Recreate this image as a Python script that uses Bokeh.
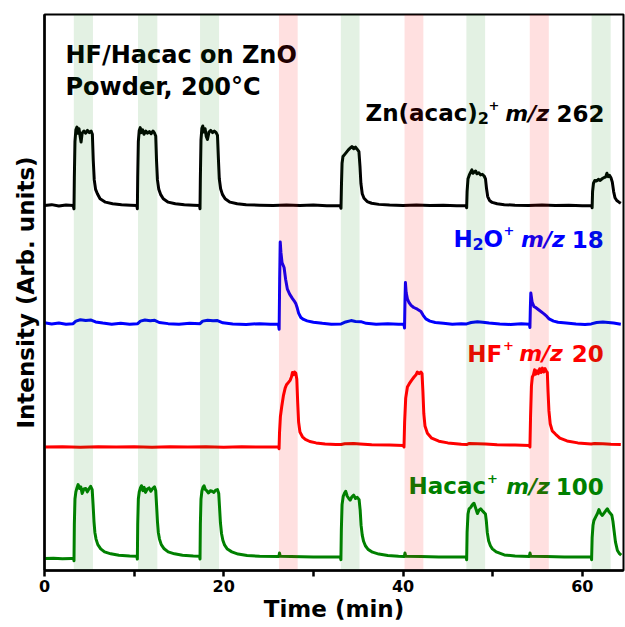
from bokeh.plotting import figure
from bokeh.models import Range1d, FixedTicker
from bokeh.embed import file_html
from bokeh.resources import INLINE
from bokeh.core.properties import value

# ---------------- data ----------------
# time (min), intensity (arb. units, relative to each trace's own baseline)
zn_acac2_262 = [
    (0.0, 0.0), (0.8, 0.15), (1.6, -0.1), (2.4, 0.1), (3.2, 0.0),
    (3.29, -0.6), (3.33, 5.0), (3.40, 11.5), (3.50, 13.6), (3.62, 14.1), (3.72, 13.0), (3.85, 13.8),
    (3.98, 12.4), (4.08, 11.4), (4.2, 13.0), (4.4, 13.4), (4.6, 13.0), (4.8, 13.5), (5.0, 13.1),
    (5.2, 13.4), (5.34, 12.8), (5.44, 8.1), (5.55, 4.6), (5.7, 2.9), (5.9, 2.1), (6.2, 1.2),
    (6.8, 0.6), (7.6, 0.3), (8.6, 0.15), (9.6, 0.05), (10.3, 0.0),
    (10.36, -0.6), (10.40, 5.0), (10.47, 11.5), (10.57, 13.5), (10.68, 14.0), (10.8, 13.1),
    (10.95, 13.6), (11.1, 12.8), (11.3, 13.4), (11.5, 13.0), (11.7, 13.3), (11.9, 12.9),
    (12.1, 13.4), (12.28, 13.0), (12.41, 12.5), (12.5, 8.0), (12.6, 4.6), (12.75, 2.9),
    (12.95, 2.0), (13.25, 1.2), (13.8, 0.6), (14.6, 0.3), (15.6, 0.12), (16.6, 0.05), (17.3, 0.0),
    (17.35, -0.6), (17.39, 5.0), (17.46, 11.8), (17.56, 13.9), (17.66, 14.3), (17.78, 13.2),
    (17.92, 13.8), (18.05, 12.4), (18.18, 11.9), (18.35, 13.2), (18.55, 13.5), (18.75, 13.1),
    (18.95, 13.4), (19.15, 13.1), (19.3, 12.6), (19.4, 8.5), (19.5, 4.8), (19.65, 3.0),
    (19.85, 2.0), (20.15, 1.2), (20.7, 0.6), (21.5, 0.3), (22.5, 0.12), (24.0, 0.05), (25.5, 0.0),
    (27.0, 0.1), (28.5, 0.0), (30.0, 0.08), (31.5, -0.05), (33.0, 0.0),
    (33.08, -0.5), (33.13, 3.5), (33.2, 7.6), (33.3, 8.8), (33.5, 9.2), (33.7, 9.6), (33.9, 10.0),
    (34.1, 10.3), (34.3, 10.6), (34.5, 10.2), (34.7, 10.5), (34.9, 10.1), (35.08, 9.7),
    (35.2, 7.0), (35.3, 4.0), (35.45, 2.1), (35.65, 1.3), (36.0, 0.7), (36.5, 0.4), (37.3, 0.2),
    (38.5, 0.08), (40.0, 0.0), (41.5, 0.08), (43.0, 0.0), (44.5, 0.06), (46.0, -0.05), (47.05, 0.0),
    (47.1, -0.4), (47.15, 2.5), (47.25, 4.8), (47.4, 5.5), (47.55, 6.0), (47.68, 6.4), (47.8, 5.8),
    (47.95, 6.0), (48.1, 6.2), (48.25, 5.7), (48.45, 5.9), (48.65, 5.5), (48.85, 5.6), (49.05, 5.3),
    (49.2, 4.8), (49.32, 3.0), (49.45, 1.6), (49.65, 0.9), (49.95, 0.55), (50.5, 0.3), (51.3, 0.15),
    (52.5, 0.05), (54.0, 0.0), (55.5, 0.08), (57.0, 0.0), (58.5, 0.06), (60.0, -0.05), (61.05, 0.0),
    (61.1, -0.4), (61.15, 2.5), (61.25, 4.0), (61.4, 4.5), (61.6, 4.4), (61.8, 4.7), (62.0, 4.5),
    (62.2, 4.8), (62.4, 5.0), (62.6, 5.1), (62.75, 5.8), (62.9, 5.2), (63.05, 5.4), (63.2, 5.0),
    (63.35, 4.2), (63.5, 2.5), (63.65, 1.4), (63.85, 0.9), (64.1, 0.6), (64.3, 0.4),
]

h2o_18 = [
    (0.0, 0.15), (0.8, -0.05), (1.6, 0.1), (2.4, -0.1), (3.2, 0.0), (3.5, 0.45), (4.0, 0.7),
    (4.6, 0.55), (5.2, 0.65), (5.7, 0.3), (6.5, 0.1), (7.5, -0.1), (8.5, 0.05), (9.5, -0.1),
    (10.4, 0.0), (10.7, 0.45), (11.2, 0.65), (11.8, 0.5), (12.3, 0.6), (12.8, 0.2), (13.8, 0.0),
    (15.0, -0.1), (16.2, 0.05), (17.35, 0.0), (17.65, 0.45), (18.2, 0.6), (18.8, 0.5), (19.3, 0.55),
    (19.9, 0.15), (21.0, -0.05), (22.5, -0.15), (24.0, 0.0), (25.2, -0.1), (26.1, -0.1),
    (26.18, -1.0), (26.24, 8.0), (26.3, 14.7), (26.38, 12.8), (26.5, 11.0), (26.73, 10.1),
    (26.9, 8.0), (27.1, 6.2), (27.35, 5.3), (27.67, 4.5), (27.85, 4.1), (28.04, 3.6), (28.2, 2.8),
    (28.35, 1.9), (28.6, 1.1), (28.9, 0.75), (29.3, 0.5), (30.0, 0.25), (31.0, 0.05), (32.0, -0.1),
    (33.1, -0.05), (33.6, 0.3), (34.2, 0.55), (34.7, 0.4), (35.3, 0.35), (35.9, 0.05), (37.0, -0.1),
    (38.3, 0.0), (39.5, -0.1), (40.1, -0.1),
    (40.17, -0.8), (40.22, 4.0), (40.27, 7.4), (40.35, 5.6), (40.5, 4.4), (40.67, 3.8), (40.9, 3.3),
    (41.2, 2.9), (41.6, 2.6), (42.0, 2.2), (42.25, 1.5), (42.55, 0.85), (43.0, 0.45), (43.6, 0.2),
    (44.5, 0.05), (45.5, -0.1), (46.5, 0.0), (47.1, -0.05), (47.6, 0.2), (48.3, 0.35), (48.9, 0.25),
    (49.6, 0.1), (50.8, -0.05), (52.0, -0.15), (53.2, 0.0), (54.1, -0.1),
    (54.16, -0.7), (54.21, 3.0), (54.26, 5.5), (54.4, 3.9), (54.6, 3.1), (54.8, 2.9), (55.2, 2.4),
    (55.73, 1.75), (56.05, 1.3), (56.3, 0.85), (56.8, 0.45), (57.3, 0.25), (58.2, 0.1),
    (59.3, -0.05), (60.3, -0.15), (61.0, -0.05), (61.6, 0.2), (62.3, 0.3), (62.9, 0.2), (63.5, 0.1),
    (64.3, -0.1),
]

hf_20 = [
    (0.0, 0.0), (2.0, 0.05), (4.0, -0.05), (6.0, 0.05), (8.0, 0.0), (10.0, 0.05), (12.0, -0.05),
    (14.0, 0.05), (16.0, 0.0), (18.0, 0.05), (20.0, -0.05), (22.0, 0.05), (24.0, 0.0), (26.1, 0.0),
    (26.17, -0.3), (26.22, 2.5), (26.32, 5.5), (26.47, 7.3), (26.65, 9.2), (26.85, 10.6),
    (27.0, 11.2), (27.2, 11.6), (27.4, 12.0), (27.55, 12.6), (27.66, 13.4), (27.78, 13.0),
    (27.9, 13.5), (28.04, 13.3), (28.15, 12.2), (28.25, 8.0), (28.35, 4.5), (28.5, 2.7),
    (28.78, 1.85), (29.1, 1.4), (29.6, 1.0), (30.3, 0.75), (31.3, 0.55), (32.5, 0.45), (33.1, 0.45),
    (33.5, 0.6), (34.5, 0.65), (35.2, 0.55), (36.5, 0.4), (38.5, 0.35), (40.05, 0.3),
    (40.11, 0.0), (40.18, 4.5), (40.3, 8.8), (40.49, 10.8), (40.7, 11.4), (40.95, 12.0),
    (41.23, 12.6), (41.45, 13.0), (41.6, 13.5), (41.8, 13.2), (42.0, 13.5), (42.12, 13.2),
    (42.22, 10.0), (42.32, 6.0), (42.45, 3.8), (42.72, 2.5), (43.2, 1.6), (44.0, 1.05), (45.0, 0.75),
    (46.5, 0.5), (47.1, 0.45), (47.4, 0.65), (48.3, 0.6), (49.2, 0.55), (50.5, 0.4), (52.5, 0.35),
    (54.1, 0.3),
    (54.16, 0.0), (54.23, 5.5), (54.33, 11.0), (54.43, 12.6), (54.55, 13.0), (54.68, 13.9),
    (54.8, 13.1), (54.95, 13.7), (55.1, 13.2), (55.25, 14.1), (55.4, 13.4), (55.55, 14.2),
    (55.7, 13.5), (55.85, 14.1), (56.0, 13.6), (56.1, 13.4), (56.18, 10.0),
    (56.28, 6.5), (56.42, 4.2), (56.65, 2.9), (57.03, 2.3), (57.5, 1.6), (58.3, 1.1), (59.5, 0.75),
    (61.0, 0.55), (61.35, 0.65), (62.3, 0.6), (63.2, 0.5), (64.3, 0.45),
]

hacac_100 = [
    (0.0, -0.2), (1.0, -0.15), (2.0, -0.25), (3.0, -0.2), (3.25, -0.2),
    (3.29, -0.6), (3.33, 6.0), (3.40, 10.5), (3.5, 11.8), (3.62, 12.5), (3.75, 13.1), (3.9, 12.4),
    (4.05, 12.7), (4.2, 11.5), (4.4, 12.3), (4.6, 12.4), (4.78, 11.8), (4.95, 12.3), (5.15, 12.8),
    (5.32, 12.2), (5.42, 9.5), (5.52, 6.5), (5.62, 4.5), (5.75, 3.3), (5.95, 2.3), (6.27, 1.55),
    (6.7, 1.0), (7.4, 0.65), (8.3, 0.4), (9.5, 0.25), (10.3, 0.2),
    (10.36, -0.3), (10.40, 6.0), (10.47, 10.5), (10.57, 11.8), (10.7, 12.5), (10.82, 12.9),
    (10.97, 12.0), (11.12, 12.6), (11.27, 11.7), (11.47, 12.3), (11.67, 12.5), (11.87, 11.9),
    (12.07, 12.4), (12.27, 12.7), (12.41, 12.0), (12.5, 9.5), (12.6, 6.5), (12.7, 4.5),
    (12.83, 3.3), (13.03, 2.3), (13.35, 1.55), (13.8, 1.0), (14.5, 0.65), (15.4, 0.4), (16.6, 0.25),
    (17.3, 0.2),
    (17.35, -0.3), (17.39, 6.0), (17.46, 10.5), (17.56, 11.9), (17.68, 12.6), (17.8, 12.9),
    (17.95, 12.2), (18.1, 12.0), (18.3, 11.6), (18.5, 12.0), (18.7, 11.9), (18.9, 11.7),
    (19.1, 12.1), (19.3, 12.2), (19.44, 11.5), (19.53, 9.0), (19.63, 6.2), (19.75, 4.3),
    (19.9, 3.1), (20.1, 2.2), (20.4, 1.5), (20.9, 1.0), (21.6, 0.6), (22.6, 0.35), (24.0, 0.2),
    (26.15, 0.15), (26.22, 0.8), (26.3, 0.2), (27.5, 0.15), (30.0, 0.1), (33.0, 0.1),
    (33.07, -0.4), (33.12, 5.0), (33.2, 9.5), (33.33, 11.0), (33.48, 11.6), (33.6, 11.9),
    (33.78, 11.0), (33.95, 10.6), (34.1, 10.3), (34.3, 10.9), (34.5, 11.2), (34.7, 10.6),
    (34.9, 10.8), (35.1, 10.4), (35.22, 8.5), (35.32, 5.8), (35.45, 4.0), (35.6, 2.9), (35.8, 2.1),
    (36.1, 1.45), (36.6, 0.95), (37.3, 0.6), (38.3, 0.35), (39.5, 0.2), (40.15, 0.15),
    (40.22, 0.8), (40.3, 0.2), (42.0, 0.15), (44.0, 0.1), (46.0, 0.1), (47.05, 0.1),
    (47.1, -0.4), (47.15, 4.5), (47.25, 7.8), (47.37, 8.75), (47.55, 9.0), (47.75, 9.5),
    (47.92, 9.75), (48.1, 8.9), (48.3, 7.9), (48.48, 8.5), (48.66, 8.75), (48.85, 8.4),
    (49.03, 8.1), (49.2, 7.8), (49.3, 6.5), (49.4, 4.5), (49.55, 3.0), (49.75, 2.1), (49.97, 1.55),
    (50.4, 1.0), (51.3, 0.45), (52.5, 0.25), (54.1, 0.15), (54.17, 0.8), (54.25, 0.2), (56.0, 0.15),
    (58.0, 0.1), (61.0, 0.1),
    (61.04, -0.4), (61.1, 3.5), (61.2, 5.8), (61.3, 6.65), (61.5, 7.3), (61.68, 7.85),
    (61.86, 8.6), (62.05, 7.9), (62.24, 7.55), (62.45, 8.0), (62.62, 8.4), (62.8, 8.75),
    (62.98, 8.2), (63.17, 7.85), (63.3, 7.6), (63.42, 6.5), (63.55, 4.8), (63.7, 2.8),
    (63.92, 1.25), (64.15, 0.7), (64.35, 0.4),
]

# dosing windows (min)
hacac_start = [3.27, 10.43, 17.35, 33.06, 47.07, 61.04]
hacac_end = [5.41, 12.59, 19.48, 35.15, 49.16, 63.17]
hf_start = [26.16, 40.17, 54.14]
hf_end = [28.25, 42.27, 56.27]

x_ticks = [0, 20, 40, 60]
x_minor_ticks = [10, 30, 50]

# ---------------- layout / style ----------------
offsets = {"k": 65.65, "b": 44.4, "r": 22.2, "g": 2.35}
FONT = value("DejaVu Sans")
SUB = 0.9   # subscript drop (y units)
SUP = 1.5   # superscript rise (y units)

p = figure(width=625, height=627, output_backend="svg", toolbar_location=None,
           x_range=Range1d(0, 64.6), y_range=Range1d(0, 100),
           min_border_left=44, min_border_right=2, min_border_top=14, min_border_bottom=57)
p.grid.visible = False
p.outline_line_color = "black"
p.outline_line_width = 2
p.background_fill_color = "white"
p.border_fill_color = "white"

traces = [(zn_acac2_262, "black", offsets["k"]),
          (h2o_18, "blue", offsets["b"]),
          (hf_20, "red", offsets["r"]),
          (hacac_100, "green", offsets["g"])]
for pts, col, off in traces:
    t = [a for a, _ in pts]
    v = [b + off for _, b in pts]
    p.line(t, v, line_color=col, line_width=3, line_join="round")


def txt(x, y, s, color, align="left", style="bold", size="23px"):
    p.text(x=[x], y=[y], text=[s], text_color=color, text_font=FONT,
           text_font_size=value(size), text_font_style=style,
           text_align=align, text_baseline="alphabetic")


txt(2.34, 92.8, "HF/Hacac on ZnO", "black", size="24px")
txt(2.34, 86.9, "Powder, 200°C", "black", size="24px")

# Zn(acac)2+ m/z 262
yk = 82.2
txt(35.81, yk, "Zn(acac)", "black")
txt(48.35, yk - SUB, "2", "black", size="16px")
txt(49.55, yk + SUP, "+", "black", size="13px")
txt(53.85, yk, "m/z", "black", align="center", style="bold italic", size="22px")
txt(62.48, yk, "262", "black", align="right")

# H2O+ m/z 18
yb = 59.6
txt(45.63, yb, "H", "blue")
txt(47.75, yb - SUB, "2", "blue", size="16px")
txt(48.98, yb, "O", "blue")
txt(51.21, yb + SUP, "+", "blue", size="13px")
txt(55.6, yb, "m/z", "blue", align="center", style="bold italic", size="22px")
txt(62.40, yb, "18", "blue", align="right")

# HF+ m/z 20
yr = 39.0
txt(47.16, yr, "HF", "red")
txt(51.15, yr + SUP, "+", "red", size="13px")
txt(55.4, yr, "m/z", "red", align="center", style="bold italic", size="22px")
txt(62.40, yr, "20", "red", align="right")

# Hacac+ m/z 100
yg = 15.11
txt(40.61, yg, "Hacac", "green")
txt(49.37, yg + SUP, "+", "green", size="13px")
txt(53.95, yg, "m/z", "green", align="center", style="bold italic", size="22px")
txt(62.40, yg, "100", "green", align="right")

# translucent dosing bands drawn over everything
p.quad(left=hacac_start, right=hacac_end, bottom=0, top=100,
       fill_color="green", fill_alpha=0.11, line_color=None)
p.quad(left=hf_start, right=hf_end, bottom=0, top=100,
       fill_color="red", fill_alpha=0.12, line_color=None)

xa = p.xaxis[0]
xa.ticker = FixedTicker(ticks=x_ticks, minor_ticks=x_minor_ticks)
xa.axis_label = "Time (min)"
xa.axis_label_text_font = "DejaVu Sans"
xa.axis_label_text_font_style = "bold"
xa.axis_label_text_font_size = "23px"
xa.axis_label_text_color = "black"
xa.axis_label_standoff = 1
xa.major_label_text_font = "DejaVu Sans"
xa.major_label_text_font_style = "bold"
xa.major_label_text_font_size = "16px"
xa.major_label_text_color = "black"
xa.major_label_standoff = 3
xa.axis_line_width = 2.5
xa.major_tick_line_width = 2.5
xa.minor_tick_line_width = 2.5
xa.major_tick_out = 6
xa.major_tick_in = 0
xa.minor_tick_out = 6
xa.minor_tick_in = 0

ya = p.yaxis[0]
ya.ticker = FixedTicker(ticks=[])
ya.axis_label = "Intensity (Arb. units)"
ya.axis_label_text_font = "DejaVu Sans"
ya.axis_label_text_font_style = "bold"
ya.axis_label_text_font_size = "23px"
ya.axis_label_text_color = "black"
ya.axis_label_standoff = 6
ya.axis_line_width = 2.5
ya.major_tick_out = 0
ya.major_tick_in = 0
ya.minor_tick_out = 0
ya.minor_tick_in = 0

open("out.html", "w").write(file_html(p, INLINE))
